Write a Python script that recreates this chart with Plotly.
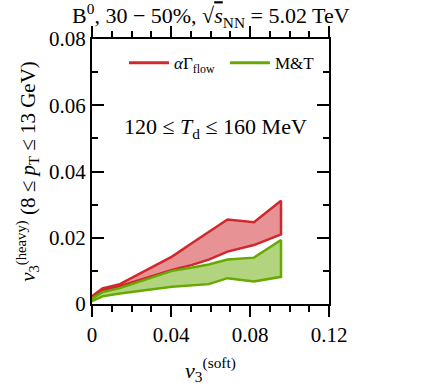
import plotly.graph_objects as go

# data
v3_soft = [0.0, 0.0053, 0.0141, 0.0405, 0.0507, 0.0591, 0.0686, 0.0820, 0.0957]
agf_upper = [0.0023, 0.0047, 0.0060, 0.0143, 0.0184, 0.0217, 0.0255, 0.0247, 0.0312]
agf_lower = [0.0018, 0.0039, 0.0054, 0.0103, 0.0118, 0.0134, 0.0158, 0.0178, 0.0210]
mt_upper = [0.0017, 0.0036, 0.0048, 0.0100, 0.0110, 0.0119, 0.0134, 0.0140, 0.0193]
mt_lower = [0.0009, 0.0023, 0.0032, 0.0052, 0.0056, 0.0060, 0.0078, 0.0068, 0.0082]

x_ticks = [0, 0.04, 0.08, 0.12]
x_ticklabels = ["0", "0.04", "0.08", "0.12"]
y_ticks = [0, 0.02, 0.04, 0.06, 0.08]
y_ticklabels = ["0", "0.02", "0.04", "0.06", "0.08"]

RED = "#d0282c"
RED_FILL = "rgba(208,40,44,0.5)"
GREEN = "#66aa00"
GREEN_FILL = "rgba(102,170,0,0.5)"
FONT = "Liberation Serif, Times New Roman, serif"

def band(x, lo, hi, line, fill):
    xs = list(x) + list(x)[::-1] + [x[0]]
    ys = list(hi) + list(lo)[::-1] + [hi[0]]
    return go.Scatter(x=xs, y=ys, mode="lines", fill="toself", fillcolor=fill,
                      line=dict(color=line, width=2.5), showlegend=False, hoverinfo="skip")

fig = go.Figure()
fig.add_trace(band(v3_soft, agf_lower, agf_upper, RED, RED_FILL))
fig.add_trace(band(v3_soft, mt_lower, mt_upper, GREEN, GREEN_FILL))
fig.add_trace(go.Scatter(x=[None], y=[None], mode="lines", line=dict(color=RED, width=3),
                         name="<i>α</i>Γ<sub>flow</sub>", legend="legend"))
fig.add_trace(go.Scatter(x=[None], y=[None], mode="lines", line=dict(color=GREEN, width=3),
                         name="M&amp;T", legend="legend2"))

axis_common = dict(showgrid=False, zeroline=False, showline=True, linecolor="black",
                   linewidth=2, mirror="ticks", tickcolor="black", tickwidth=2,
                   automargin=False,
                   tickfont=dict(family=FONT, size=21, color="black"))

fig.update_xaxes(range=[0, 0.12], tickmode="array", tickvals=x_ticks, ticktext=x_ticklabels,
                 ticks="outside", ticklen=11,
                 minor=dict(ticks="outside", ticklen=6, dtick=0.01, tickwidth=2, tickcolor="black"),
                 title=dict(text="<i>v</i><sub>3</sub><sup>(soft)</sup>",
                            font=dict(family=FONT, size=22, color="black"), standoff=16),
                 **axis_common)
fig.update_yaxes(range=[0, 0.08], tickmode="array", tickvals=y_ticks, ticktext=y_ticklabels,
                 ticks="inside", ticklen=12,
                 minor=dict(ticks="inside", ticklen=6, dtick=0.01, tickwidth=2, tickcolor="black"),
                 title=dict(text="<i>v</i><sub>3</sub><sup>(heavy)</sup> (8 ≤ <i>p</i><sub>T</sub> ≤ 13 GeV)",
                            font=dict(family=FONT, size=21, color="black"), standoff=8),
                 **axis_common)

fig.add_annotation(text="120 ≤ <i>T</i><sub>d</sub> ≤ 160 MeV", xref="paper", yref="paper",
                   x=0.523, y=0.725, showarrow=False,
                   font=dict(family=FONT, size=22, color="black"))
fig.add_annotation(text="B<sup>0</sup>, 30 − 50%, √<span style='text-decoration:overline'><i>s</i></span><sub>NN</sub> = 5.02 TeV",
                   xref="paper", yref="paper", x=0.5, y=1.0, yanchor="bottom", yshift=6,
                   showarrow=False, font=dict(family=FONT, size=22, color="black"))

legend_common = dict(orientation="h", y=0.909, yanchor="middle", xanchor="left",
                     font=dict(family=FONT, size=17, color="black"), itemwidth=40,
                     bgcolor="rgba(0,0,0,0)", tracegroupgap=0)

fig.update_layout(width=431, height=386, margin=dict(l=92, r=102, t=39, b=82),
                  paper_bgcolor="white", plot_bgcolor="white",
                  legend=dict(x=0.135, **legend_common),
                  legend2=dict(x=0.561, **legend_common))

fig.write_html("out.html")
